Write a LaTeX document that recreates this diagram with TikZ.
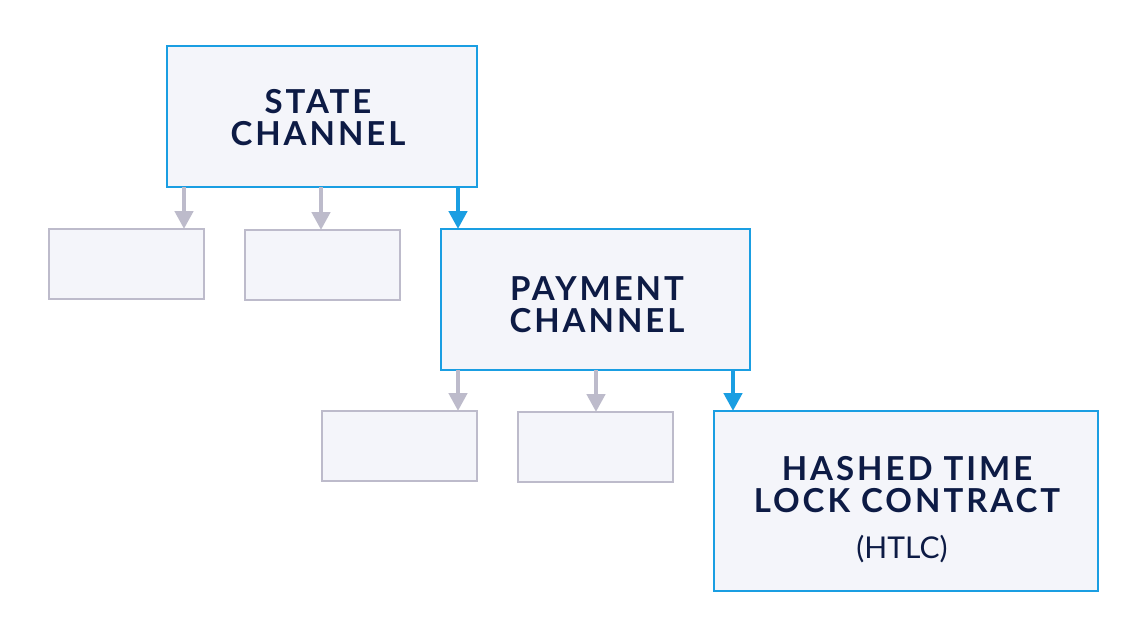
\documentclass[tikz,border=0pt]{standalone}
\usepackage{fontspec}
\setmainfont{Lato}
\newfontfamily\boxfont[LetterSpace=9]{Lato Bold}
\newfontfamily\subfont{Lato}
\usetikzlibrary{arrows.meta}
\definecolor{bluec}{HTML}{1A9EE2}
\definecolor{grayc}{HTML}{BDBBCB}
\definecolor{fillc}{HTML}{F4F5FA}
\definecolor{textc}{HTML}{0D1B45}
\tikzset{
  mainbox/.style={draw=bluec, line width=2pt, fill=fillc, inner sep=0pt, outer sep=0pt, rectangle},
  subbox/.style={draw=grayc, line width=2pt, fill=fillc, inner sep=0pt, outer sep=0pt, rectangle, minimum width=155pt, minimum height=70pt},
  grayarrow/.style={draw=grayc, line width=4.5pt, -{Triangle[width=18pt,length=18pt]}},
  bluearrow/.style={draw=bluec, line width=4.5pt, -{Triangle[width=18pt,length=18pt]}},
  lbl/.style={text=textc, align=center, font=\boxfont\fontsize{33}{32}\selectfont, inner sep=0pt}
}
\begin{document}
\begin{tikzpicture}[x=1pt,y=-1pt]
\useasboundingbox (0,0) rectangle (1146,637);
\path[fill=white] (0,0) rectangle (1146,637);
% boxes
\node[mainbox, minimum width=310pt, minimum height=141pt] (state) at (322,116.5) {};
\node[subbox] (s1) at (126,264) {};
\node[subbox] (s2) at (322.5,265) {};
\node[mainbox, minimum width=309pt, minimum height=141pt] (pay) at (595.5,299.5) {};
\node[subbox] (p1) at (399.5,446) {};
\node[subbox] (p2) at (595.5,447) {};
\node[mainbox, minimum width=384pt, minimum height=180pt] (htlc) at (906,501) {};
% x positions of the connectors
\coordinate (xA) at (184,0); \coordinate (xB) at (321,0); \coordinate (xC) at (458,0);
\coordinate (xD) at (596,0); \coordinate (xE) at (733,0);
% texts
\node[lbl] (t1) at (318,118) {STATE\\CHANNEL};
\node[lbl] (t2) at (597,305) {PAYMENT\\CHANNEL};
\node[lbl] (t3) at (907,485) {HASHED TIME\\LOCK CONTRACT};
\node[text=textc, font=\subfont\fontsize{30}{32}\selectfont, inner sep=0pt] (t4) at (902,549) {(HTLC)};
% arrows
\draw[grayarrow] (xA |- state.south) -- (xA |- s1.north);
\draw[grayarrow] (xB |- state.south) -- (xB |- s2.north);
\draw[bluearrow] (xC |- state.south) -- (xC |- pay.north);
\draw[grayarrow] (xC |- pay.south) -- (xC |- p1.north);
\draw[grayarrow] (xD |- pay.south) -- (xD |- p2.north);
\draw[bluearrow] (xE |- pay.south) -- (xE |- htlc.north);
\end{tikzpicture}
\end{document}
